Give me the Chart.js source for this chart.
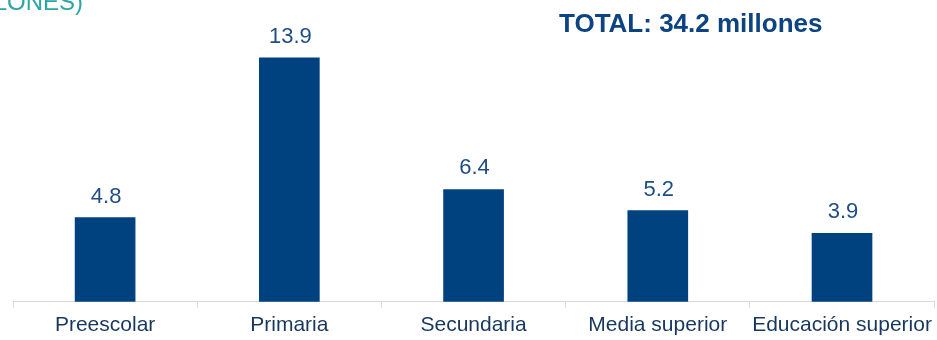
<!DOCTYPE html>
<html lang="es">
<head>
<meta charset="utf-8">
<title>Matrícula por nivel educativo</title>
<script src="https://cdn.jsdelivr.net/npm/chart.js@4.4.1/dist/chart.umd.min.js"></script>
<style>
  body { margin: 0; background: #fff; }
  #wrap { position: relative; width: 937px; height: 340px; overflow: hidden; }
  .head { position: absolute; font-family: 'Liberation Sans', Arial, sans-serif; line-height: 1; white-space: nowrap; }
  #unidad { right: 854px; top: -10px; font-size: 24px; color: #2ca6a4; }
  #total { left: 559px; top: 10px; font-size: 26px; font-weight: bold; color: #0b4383; }
</style>
</head>
<body>
<div id="wrap">
  <canvas id="grafica"></canvas>
  <div class="head" id="unidad">(MILLONES)</div>
  <div class="head" id="total">TOTAL: 34.2 millones</div>
</div>
<script>
const niveles = ['Preescolar', 'Primaria', 'Secundaria', 'Media superior', 'Educación superior'];
const alumnos = [4.8, 13.9, 6.4, 5.2, 3.9];

const azul = '#00417f';
const fuente = "'Liberation Sans', Arial, sans-serif";

// numero encima de cada barra
const etiquetas = {
  id: 'etiquetas',
  afterDatasetsDraw(chart) {
    const ctx = chart.ctx;
    const meta = chart.getDatasetMeta(0);
    ctx.save();
    ctx.font = '22px ' + fuente;
    ctx.fillStyle = '#1f4e85';
    ctx.textAlign = 'center';
    ctx.textBaseline = 'alphabetic';
    meta.data.forEach((bar, i) => {
      ctx.fillText(alumnos[i].toFixed(1), bar.x + 1, bar.y - 15);
    });
    ctx.restore();
  }
};

const chart = new Chart(document.getElementById('grafica'), {
  type: 'bar',
  data: {
    labels: niveles,
    datasets: [{
      data: alumnos,
      backgroundColor: azul,
      borderWidth: 0,
      barThickness: 60
    }]
  },
  options: {
    responsive: true,
    maintainAspectRatio: false,
    animation: false,
    layout: { padding: { left: 13, right: 1, top: 21, bottom: -3 } },
    plugins: {
      legend: { display: false },
      tooltip: { enabled: false }
    },
    scales: {
      x: {
        grid: {
          offset: true,
          drawOnChartArea: false,
          drawTicks: true,
          tickLength: 6,
          color: '#d9d9d9'
        },
        border: { display: true, color: '#d9d9d9', width: 1 },
        ticks: {
          color: '#17375e',
          font: { family: fuente, size: 21 },
          padding: 5,
          maxRotation: 0,
          autoSkip: false
        }
      },
      y: {
        display: false,
        min: 0,
        max: 16
      }
    }
  },
  plugins: [etiquetas]
});
</script>
</body>
</html>
